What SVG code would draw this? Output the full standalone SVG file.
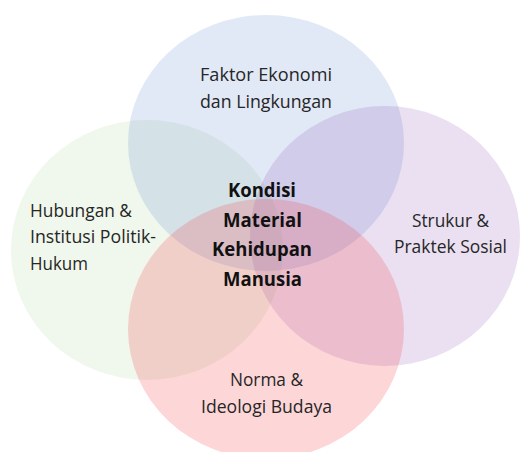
<svg xmlns="http://www.w3.org/2000/svg" width="520" height="452" viewBox="0 0 520 452">
<style>
.c{stroke:none}
.t{font-family:"Open Sans","Noto Sans",sans-serif;font-size:18px;fill:#262626}
.b{font-family:"Open Sans","Noto Sans",sans-serif;font-size:20px;font-weight:bold;fill:#111}
</style>
<rect width="520" height="452" fill="#ffffff"/>
<g id="circle-left"><ellipse class="c" cx="147" cy="250" rx="136" ry="130" fill="#70AD47" fill-opacity="0.1"/></g>
<g id="circle-top"><ellipse class="c" cx="266" cy="143" rx="138" ry="128" fill="#4472C4" fill-opacity="0.16"/></g>
<g id="circle-right"><ellipse class="c" cx="385" cy="236" rx="135" ry="130" fill="#7030A0" fill-opacity="0.15"/></g>
<g id="circle-bottom"><ellipse class="c" cx="266" cy="329" rx="138" ry="130" fill="#F8464E" fill-opacity="0.22"/></g>
<g id="label-top">
<text class="t" x="200" y="81" textLength="132" lengthAdjust="spacingAndGlyphs">Faktor Ekonomi</text>
<text class="t" x="200" y="108" textLength="132" lengthAdjust="spacingAndGlyphs">dan Lingkungan</text>
</g>
<g id="label-left">
<text class="t" x="30" y="217" textLength="102" lengthAdjust="spacingAndGlyphs">Hubungan &amp;</text>
<text class="t" x="30" y="243" textLength="126" lengthAdjust="spacingAndGlyphs">Institusi Politik-</text>
<text class="t" x="30" y="270" textLength="58" lengthAdjust="spacingAndGlyphs">Hukum</text>
</g>
<g id="label-right">
<text class="t" x="412" y="227" textLength="77" lengthAdjust="spacingAndGlyphs">Strukur &amp;</text>
<text class="t" x="394" y="253" textLength="113" lengthAdjust="spacingAndGlyphs">Praktek Sosial</text>
</g>
<g id="label-bottom">
<text class="t" x="230" y="386" textLength="73" lengthAdjust="spacingAndGlyphs">Norma &amp;</text>
<text class="t" x="201" y="413" textLength="131" lengthAdjust="spacingAndGlyphs">Ideologi Budaya</text>
</g>
<g id="label-center">
<text class="b" x="228" y="197" textLength="68" lengthAdjust="spacingAndGlyphs">Kondisi</text>
<text class="b" x="223" y="227" textLength="79" lengthAdjust="spacingAndGlyphs">Material</text>
<text class="b" x="212" y="256" textLength="100" lengthAdjust="spacingAndGlyphs">Kehidupan</text>
<text class="b" x="223" y="286" textLength="79" lengthAdjust="spacingAndGlyphs">Manusia</text>
</g>
<g id="connectors"/>
</svg>
